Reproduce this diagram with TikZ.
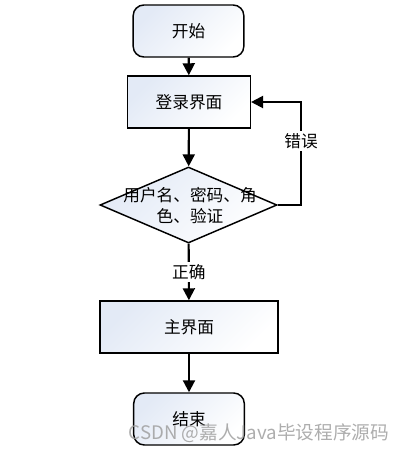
\documentclass[tikz,border=0pt]{standalone}
\usepackage{fontspec}
\setmainfont{Noto Sans CJK SC}
\usetikzlibrary{arrows.meta,shapes.geometric}
\definecolor{flowfill}{HTML}{E3EAF6}
\tikzset{
  flowshade/.style={top color=flowfill, bottom color=white, shading angle=45},
  flowterm/.style={draw, line width=1.1pt, rounded corners=8pt, flowshade,
                   minimum width=83pt, minimum height=39pt, font=\fontsize{12.5}{15}\selectfont},
  flowbox/.style={draw, line width=1.1pt, flowshade, minimum height=39pt,
                  font=\fontsize{12.5}{15}\selectfont},
  flowdiam/.style={draw, line width=1.1pt, diamond, flowshade, inner sep=0pt,
                   minimum width=132.75pt, minimum height=57pt},
  flowtext/.style={align=center, font=\fontsize{12.5}{16}\selectfont},
  flowar/.style={-{Triangle[length=9pt, width=9pt]}, line width=1.6pt},
  flowline/.style={line width=1.6pt},
  flowlab/.style={fill=white, inner sep=1.5pt, font=\fontsize{12.5}{15}\selectfont},
}

\begin{document}
\begin{tikzpicture}[x=0.75pt, y=-0.75pt]
  \useasboundingbox (0,0) rectangle (409,454);

  \node[flowterm] (start) at (188.5,31) {开始};
  \node[flowbox, minimum width=92pt] (login) at (189,102) {登录界面};
  \node[flowdiam] (chk) at (188.5,205) {};
  \node[flowtext] (chktxt) at (190,205.5) {用户名、密码、角\\色、验证};
  \node[flowbox, minimum width=133.5pt] (main) at (189,327) {主界面};
  \node[flowterm] (stop) at (189,419) {结束};
  \coordinate (errc) at (301,205);

  \draw[flowar] (start) -- (login);
  \draw[flowar] (login) -- (chk);
  \draw[flowar] (chk) -- node[flowlab] (oklab) {正确} (main);
  \draw[flowar] (chk.east) -- (errc) |- node[flowlab, pos=0.31] (errlab) {错误} (login.east);
  \draw[flowar] (main) -- (stop);

  \node[text=gray!75, opacity=0.85, font=\fontsize{14}{16}\selectfont] (wmark) at (259,433) {CSDN @嘉人Java毕设程序源码};
\end{tikzpicture}
\end{document}
